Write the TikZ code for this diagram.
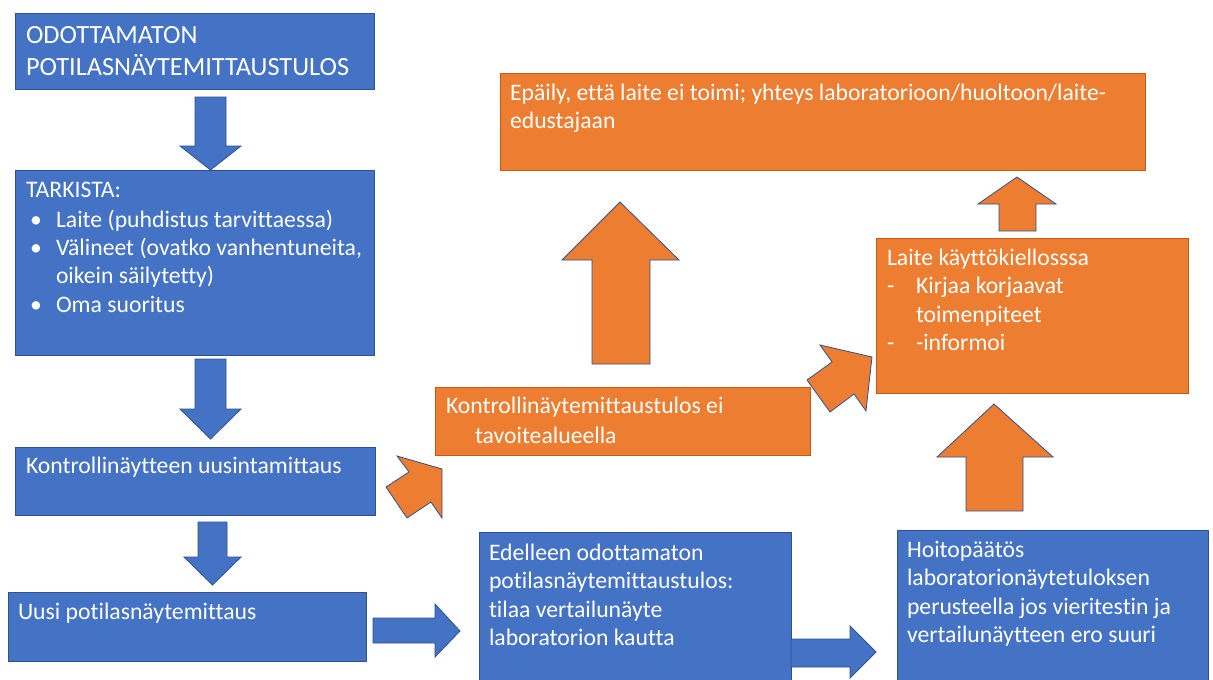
\documentclass[tikz,border=0pt]{standalone}
\usepackage{fontspec}
\setmainfont{Carlito}[Ligatures=NoCommon]
\definecolor{bfill}{HTML}{4472C4}
\definecolor{bline}{HTML}{2F528F}
\definecolor{ofill}{HTML}{ED7D31}
\definecolor{oline}{HTML}{C55A11}
\tikzset{
  bluebox/.style={draw=bline, fill=bfill, line width=0.8pt, inner sep=0pt, outer sep=0pt, anchor=north west},
  orangebox/.style={draw=oline, fill=ofill, line width=0.8pt, inner sep=0pt, outer sep=0pt, anchor=north west},
  bluearrow/.style={draw=bline, fill=bfill, line width=0.8pt, line join=miter},
  orangearrow/.style={draw=bline, fill=ofill, line width=0.8pt, line join=miter},
  txt/.style={anchor=base west, inner sep=0pt, outer sep=0pt, text=white, font=\fontsize{23.7}{28.5}\selectfont},
  bigtxt/.style={txt, font=\fontsize{26.3}{32}\selectfont}
}
\begin{document}
\begin{tikzpicture}[x=1pt, y=-1pt]
\useasboundingbox (0,0) rectangle (1213,680);
\fill[white] (0,0) rectangle (1213,680);

% boxes
\node[bluebox, minimum width=359pt, minimum height=76pt] (b1) at (15,13) {};
\node[bluebox, minimum width=359pt, minimum height=185pt] (b2) at (15,170) {};
\node[bluebox, minimum width=360pt, minimum height=68pt] (b3) at (15,447) {};
\node[bluebox, minimum width=358pt, minimum height=69pt] (b4) at (8,592) {};
\node[bluebox, minimum width=312pt, minimum height=155pt] (b5) at (479,532) {};
\node[bluebox, minimum width=311pt, minimum height=155pt] (b6) at (897,530) {};
\node[orangebox, minimum width=312pt, minimum height=155pt] (b7) at (876,238) {};
\node[orangebox, minimum width=645pt, minimum height=97pt] (b8) at (500,73) {};
\node[orangebox, minimum width=375pt, minimum height=68pt] (b9) at (435,387) {};

% blue down arrows
\draw[bluearrow] (195,97) -- (226,97) -- (226,146) -- (241,146) -- (210.5,170) -- (180,146) -- (195,146) -- cycle;
\draw[bluearrow] (195,359) -- (226,359) -- (226,409) -- (241,409) -- (210.5,439) -- (180,409) -- (195,409) -- cycle;
\draw[bluearrow] (198,522) -- (227,522) -- (227,557) -- (241,557) -- (212.5,585) -- (184,557) -- (198,557) -- cycle;
% blue right arrows
\draw[bluearrow] (373,618) -- (435,618) -- (435,604) -- (460,631) -- (435,657) -- (435,643) -- (373,643) -- cycle;
\draw[bluearrow] (791,639) -- (850,639) -- (850,626) -- (876,652) -- (850,678) -- (850,667) -- (791,667) -- cycle;
% orange up arrows
\draw[orangearrow] (592,364) -- (592,260) -- (562,260) -- (620,202) -- (679,260) -- (650,260) -- (650,364) -- cycle;
\draw[orangearrow] (999,231) -- (999,204) -- (978,204) -- (1017,177) -- (1056,204) -- (1036,204) -- (1036,231) -- cycle;
\draw[orangearrow] (966,511) -- (966,457) -- (937,457) -- (994,404) -- (1053,457) -- (1023,457) -- (1023,511) -- cycle;
% orange diagonal arrows
\draw[orangearrow] (397,456) -- (442,469) -- (442,518) -- (431,502) -- (407,518) -- (386,487) -- (409,472) -- cycle;
\draw[orangearrow] (820,345) -- (872,357) -- (866,411) -- (854,394) -- (830,412) -- (807,380) -- (832,362) -- cycle;

% texts
\node[bigtxt] (t1a) at (26,43) {ODOTTAMATON};
\node[bigtxt] (t1b) at (26,75) {POTILASNÄYTEMITTAUSTULOS};

\node[txt] (t2a) at (26,197) {TARKISTA:};
\node[txt] (t2b) at (30,227) {•};
\node[txt] (t2c) at (56,227) {Laite (puhdistus tarvittaessa)};
\node[txt] (t2d) at (30,255) {•};
\node[txt] (t2e) at (56,255) {Välineet (ovatko vanhentuneita,};
\node[txt] (t2f) at (56,283) {oikein säilytetty)};
\node[txt] (t2g) at (30,312) {•};
\node[txt] (t2h) at (56,312) {Oma suoritus};

\node[txt] (t3) at (26,473) {Kontrollinäytteen uusintamittaus};
\node[txt] (t4) at (18,619) {Uusi potilasnäytemittaus};

\node[txt] (t5a) at (489,560) {Edelleen odottamaton};
\node[txt] (t5b) at (489,588) {potilasnäytemittaustulos:};
\node[txt] (t5c) at (489,617) {tilaa vertailunäyte};
\node[txt] (t5d) at (489,645) {laboratorion kautta};

\node[txt] (t6a) at (907,557) {Hoitopäätös};
\node[txt] (t6b) at (907,585) {laboratorionäytetuloksen};
\node[txt] (t6c) at (907,614) {perusteella jos vieritestin ja};
\node[txt] (t6d) at (907,642) {vertailunäytteen ero suuri};

\node[txt] (t7a) at (887,265) {Laite käyttökiellosssa};
\node[txt] (t7b) at (887,293) {-};
\node[txt] (t7c) at (916,293) {Kirjaa korjaavat};
\node[txt] (t7d) at (916,322) {toimenpiteet};
\node[txt] (t7e) at (887,350) {-};
\node[txt] (t7f) at (916,350) {-informoi};

\node[txt] (t8a) at (510,100) {Epäily, että laite ei toimi; yhteys laboratorioon/huoltoon/laite-};
\node[txt] (t8b) at (510,128) {edustajaan};

\node[txt] (t9a) at (446,413) {Kontrollinäytemittaustulos ei};
\node[txt] (t9b) at (475,443) {tavoitealueella};
\end{tikzpicture}
\end{document}
